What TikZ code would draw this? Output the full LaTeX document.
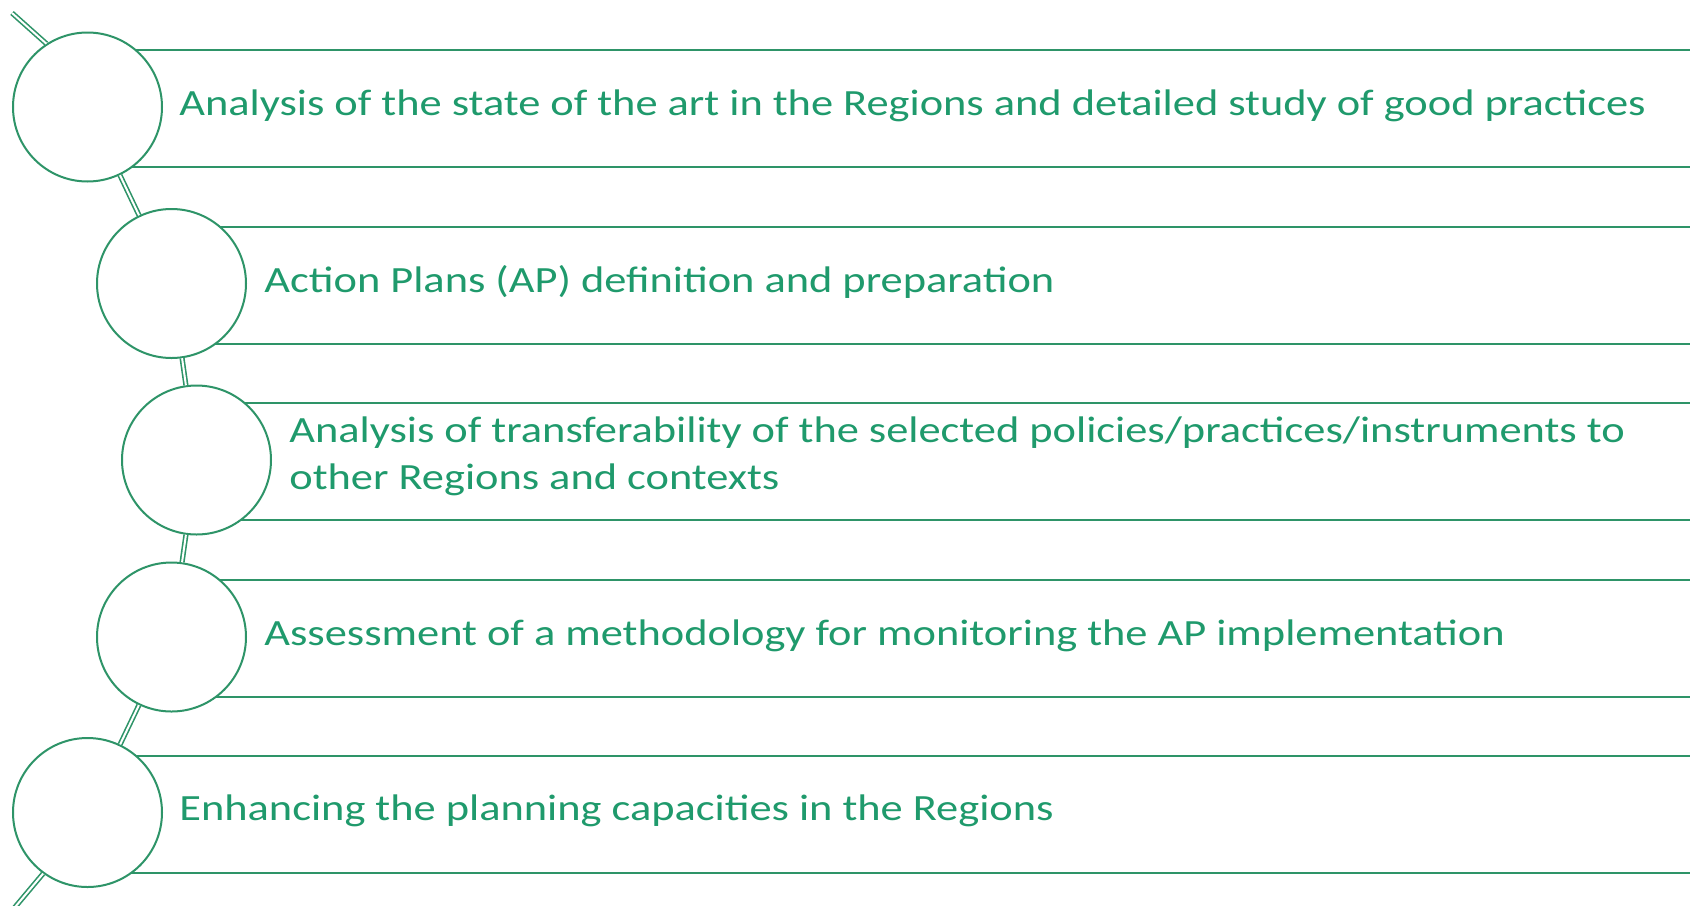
\documentclass[tikz,border=0pt]{standalone}
\usepackage{fontspec}
\setmainfont{Carlito}
\newfontfamily\labelfont[FakeStretch=1.2]{Carlito}
\definecolor{lgreen}{HTML}{2E9468}
\definecolor{tgreen}{HTML}{1F9A6C}
\begin{document}
\begin{tikzpicture}[x=0.5pt,y=-0.5pt,
  stepcircle/.style={circle,draw=lgreen,line width=1pt,fill=white,minimum size=74.5pt,inner sep=0pt},
  bandline/.style={draw=lgreen,line width=1pt},
  conn/.style={draw=lgreen,line width=0.8pt,double=white,double distance=1pt},
  label/.style={anchor=base west,text=tgreen,font=\labelfont\fontsize{18.5}{23.5}\selectfont,inner sep=0pt,align=left}]
\useasboundingbox (0,0) rectangle (1690,905);
\clip (0,0) rectangle (1690,905);
\fill[white] (0,0) rectangle (1690,905);
% band lines
\foreach \cx/\cy in {87.5/107,171.5/283.5,196.5/460,171.5/637,87.5/812.5}{
  \draw[bandline] (\cx,\cy-57) -- (1690,\cy-57);
  \draw[bandline] (\cx,\cy+60) -- (1690,\cy+60);
}
% circles
\node[stepcircle] (c1) at (87.5,107) {};
\node[stepcircle] (c2) at (171.5,283.5) {};
\node[stepcircle] (c3) at (196.5,460) {};
\node[stepcircle] (c4) at (171.5,637) {};
\node[stepcircle] (c5) at (87.5,812.5) {};
\coordinate (top) at (12,13);
\coordinate (bot) at (0,925);
% connectors
\draw[conn] (top) -- (c1.123);
\draw[conn] (c1) -- (c2);
\draw[conn] (c2) -- (c3);
\draw[conn] (c3) -- (c4);
\draw[conn] (c4) -- (c5);
\draw[conn] (c5.234) -- (bot);
% texts
\node[label] (t1) at (179,115) {Analysis of the state of the art in the Regions and detailed study of good practices};
\node[label] (t2) at (264,292) {Action Plans (AP) definition and preparation};
\node[label] (t3) at (289,489) {Analysis of transferability of the selected policies/practices/instruments to\\other Regions and contexts};
\node[label] (t4) at (264,645) {Assessment of a methodology for monitoring the AP implementation};
\node[label] (t5) at (179,820.5) {Enhancing the planning capacities in the Regions};
\end{tikzpicture}
\end{document}
